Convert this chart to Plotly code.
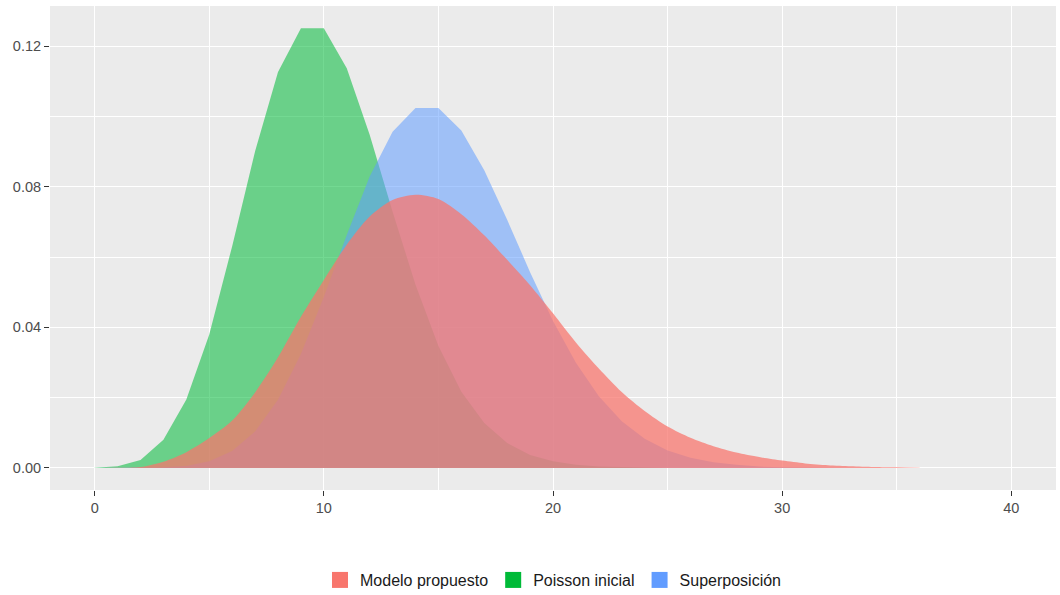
import plotly.graph_objects as go

# Support of the distributions
x_vals = list(range(0, 41))

# Poisson inicial (mean about 10)
poisson_inicial = [0.00005, 0.0005, 0.0023, 0.0080, 0.0195, 0.0380, 0.0631, 0.0901,
                   0.1126, 0.1251, 0.1251, 0.1137, 0.0948, 0.0729, 0.0521, 0.0347,
                   0.0217, 0.0128, 0.0071, 0.0037, 0.0019, 0.0009, 0.0004, 0.0002,
                   0.0001, 0.0, 0.0, 0.0, 0.0, 0.0, 0.0, 0.0, 0.0, 0.0, 0.0, 0.0,
                   0.0, 0.0, 0.0, 0.0, 0.0]

# Superposición (mean about 15)
superposicion = [0.0, 0.00001, 0.00003, 0.0002, 0.0006, 0.0019, 0.0048, 0.0104,
                 0.0194, 0.0324, 0.0486, 0.0663, 0.0829, 0.0956, 0.1024, 0.1024,
                 0.0960, 0.0847, 0.0706, 0.0557, 0.0418, 0.0299, 0.0204, 0.0133,
                 0.0083, 0.0050, 0.0029, 0.0016, 0.0009, 0.0004, 0.0002, 0.0001,
                 0.0, 0.0, 0.0, 0.0, 0.0, 0.0, 0.0, 0.0, 0.0]

# Modelo propuesto (defined up to x = 36)
modelo_propuesto = [0.0, 0.00005, 0.0003, 0.0018, 0.0045, 0.0085, 0.0135, 0.0215,
                    0.0315, 0.0430, 0.0535, 0.0635, 0.0715, 0.0762, 0.0777, 0.0765,
                    0.0722, 0.0662, 0.0592, 0.0520, 0.0440, 0.0357, 0.0283, 0.0216,
                    0.0162, 0.0118, 0.0086, 0.0062, 0.0044, 0.0031, 0.0021, 0.0013,
                    0.0008, 0.0005, 0.0003, 0.0002, 0.0001]

x_ticks = [0, 10, 20, 30, 40]
y_ticks = [0.00, 0.04, 0.08, 0.12]
y_tick_text = ["0.00", "0.04", "0.08", "0.12"]

# name, values, fill colour, line shape
series = [
    ("Poisson inicial", poisson_inicial, "rgba(0,186,56,0.55)", "linear"),
    ("Superposición", superposicion, "rgba(97,156,255,0.55)", "linear"),
    ("Modelo propuesto", modelo_propuesto, "rgba(248,118,109,0.74)", "spline"),
]

fig = go.Figure()
for name, vals, fill, shape in series:
    fig.add_trace(go.Scatter(
        x=x_vals[:len(vals)], y=vals, mode="lines", fill="tozeroy",
        fillcolor=fill, line=dict(width=0, shape=shape, smoothing=0.8),
        name=name, showlegend=False, hoverinfo="skip",
    ))

# Legend keys in the order of the factor levels
legend_order = ["Modelo propuesto", "Poisson inicial", "Superposición"]
legend_colors = {"Modelo propuesto": "#F8766D", "Poisson inicial": "#00BA38",
                 "Superposición": "#619CFF"}
for name in legend_order:
    fig.add_trace(go.Scatter(
        x=[None], y=[None], mode="markers", name=name,
        marker=dict(symbol="square", size=26, color=legend_colors[name]),
        showlegend=True,
    ))

axis_font = dict(family="Liberation Sans, Arial, sans-serif", size=14.5, color="#4D4D4D")

fig.update_layout(
    width=1060, height=595,
    margin=dict(l=50, r=4, t=6, b=105, autoexpand=False),
    paper_bgcolor="white",
    plot_bgcolor="#EBEBEB",
    font=dict(family="Liberation Sans, Arial, sans-serif"),
    legend=dict(
        orientation="h", x=0.5, xanchor="center", y=-0.186, yanchor="middle",
        font=dict(size=16, color="#1A1A1A"), itemsizing="trace",
        bgcolor="rgba(0,0,0,0)", traceorder="normal",
    ),
    xaxis=dict(
        range=[-1.95, 41.95], tickmode="array", tickvals=x_ticks,
        ticks="outside", ticklen=5, tickwidth=1, tickcolor="#333333",
        tickfont=axis_font, showgrid=True, gridcolor="white", gridwidth=1.1,
        minor=dict(dtick=5, tick0=0, showgrid=True, gridcolor="white", gridwidth=0.55),
        zeroline=False, showline=False,
    ),
    yaxis=dict(
        range=[-0.00626, 0.1314], tickmode="array", tickvals=y_ticks,
        ticktext=y_tick_text,
        ticks="outside", ticklen=5, tickwidth=1, tickcolor="#333333",
        tickfont=axis_font, showgrid=True, gridcolor="white", gridwidth=1.1,
        minor=dict(dtick=0.02, tick0=0, showgrid=True, gridcolor="white", gridwidth=0.55),
        zeroline=False, showline=False,
    ),
)

fig.write_html("out.html")
